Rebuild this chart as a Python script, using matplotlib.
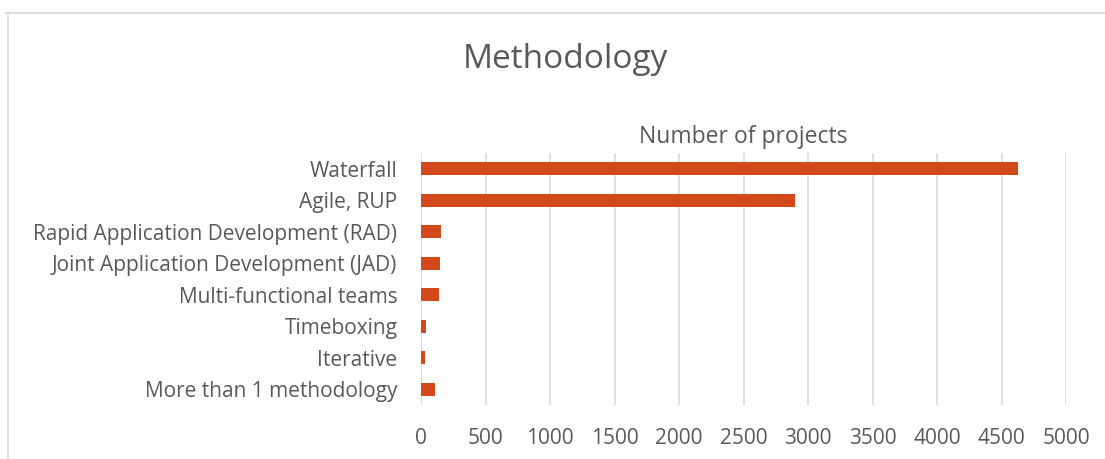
import matplotlib
matplotlib.use("Agg")
import matplotlib.pyplot as plt
from matplotlib.lines import Line2D

categories = ["Waterfall", "Agile, RUP", "Rapid Application Development (RAD)",
              "Joint Application Development (JAD)", "Multi-functional teams",
              "Timeboxing", "Iterative", "More than 1 methodology"]
projects = [4630, 2900, 153, 150, 137, 39, 31, 111]
xticks = [0, 500, 1000, 1500, 2000, 2500, 3000, 3500, 4000, 4500, 5000]

plt.rcParams['font.family'] = ['Open Sans', 'DejaVu Sans']
W, H = 1105, 459
fig = plt.figure(figsize=(W / 100, H / 100), dpi=100)
ax = fig.add_axes([421 / W, 1 - 405 / H, (1066 - 421) / W, (405 - 153) / H])

ypos = list(range(len(categories)))
ax.barh(ypos, projects, height=0.41, color='#D4491A', zorder=3)
ax.set_ylim(len(categories) - 0.5, -0.5)
ax.set_xlim(0, 5000)
ax.set_xticks(xticks)
ax.set_xticklabels([str(t) for t in xticks])
ax.set_yticks(ypos)
ax.set_yticklabels(categories)
ax.grid(axis='x', color='#D9D9D9', linewidth=1.2, zorder=0)
for s in ax.spines.values():
    s.set_visible(False)
ax.tick_params(axis='both', length=0, labelcolor='#595959', labelsize=15)
ax.tick_params(axis='x', pad=16.5)
ax.tick_params(axis='y', pad=17)

ax.set_title("Number of projects", color='#595959', fontsize=16.5, pad=7.5)
fig.text(565 / W, 1 - 60 / H, "Methodology", ha='center', va='center',
         fontsize=24, color='#595959')

# chart area border (top and left edges visible)
fig.add_artist(Line2D([5 / W, 1], [1 - 13 / H, 1 - 13 / H], transform=fig.transFigure,
                      color='#D9D9D9', linewidth=1.2))
fig.add_artist(Line2D([8 / W, 8 / W], [1 - 13 / H, 0], transform=fig.transFigure,
                      color='#D9D9D9', linewidth=1.2))

fig.savefig("out.png", dpi=100)
